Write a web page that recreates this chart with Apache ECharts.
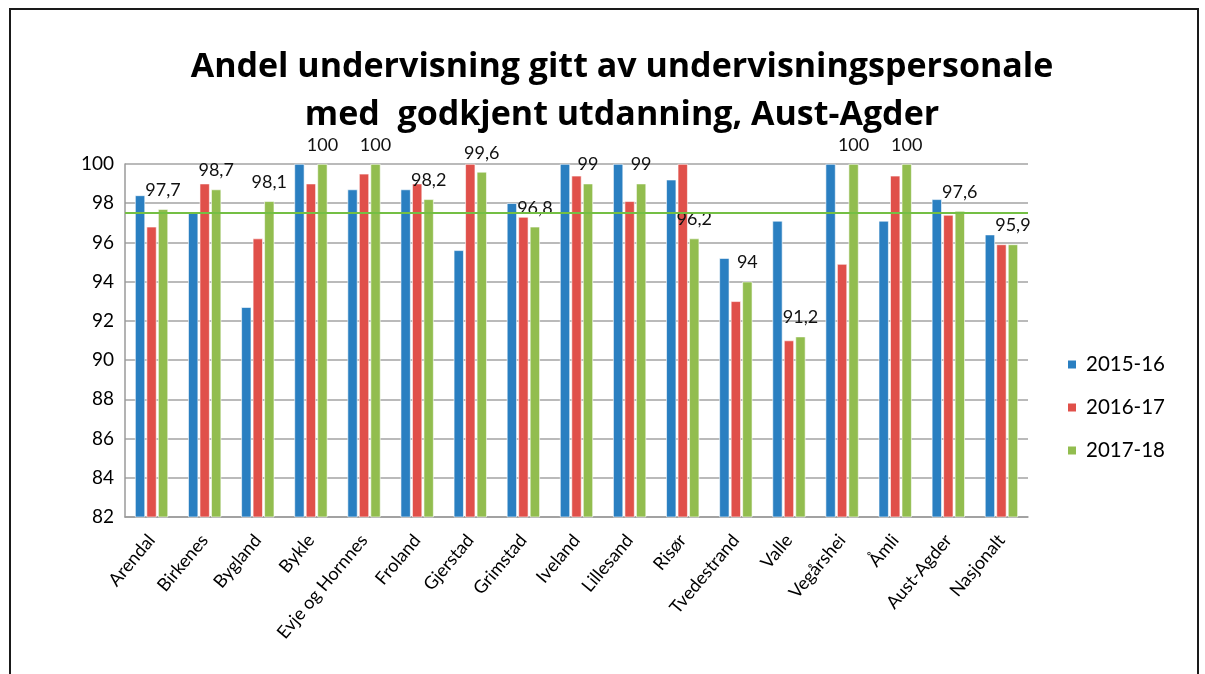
<!DOCTYPE html>
<html>
<head>
<meta charset="utf-8">
<script src="https://cdn.jsdelivr.net/npm/echarts@6/dist/echarts.min.js"></script>
<style>
  html, body { margin: 0; padding: 0; background: #fff; }
  #frame { position: absolute; left: 9px; top: 8px; width: 1186px; height: 720px; border: 2px solid #1a1a1a; }
  #chart { position: absolute; left: 0; top: 0; width: 1205px; height: 674px; }
</style>
</head>
<body>
<div id="frame"></div>
<div id="chart"></div>
<script>
// --- données --- //
const kommuner = ['Arendal', 'Birkenes', 'Bygland', 'Bykle', 'Evje og Hornnes', 'Froland', 'Gjerstad',
  'Grimstad', 'Iveland', 'Lillesand', 'Risør', 'Tvedestrand', 'Valle', 'Vegårshei', 'Åmli', 'Aust-Agder', 'Nasjonalt'];
const aar1516 = [98.4, 97.5, 92.7, 100, 98.7, 98.7, 95.6, 98.0, 100, 100, 99.2, 95.2, 97.1, 100, 97.1, 98.2, 96.4];
const aar1617 = [96.8, 99.0, 96.2, 99.0, 99.5, 99.0, 100, 97.3, 99.4, 98.1, 100, 93.0, 91.0, 94.9, 99.4, 97.4, 95.9];
const aar1718 = [97.7, 98.7, 98.1, 100, 100, 98.2, 99.6, 96.8, 99, 99, 96.2, 94, 91.2, 100, 100, 97.6, 95.9];
const snittLinje = 97.5;

const font = 'Lato, "Open Sans", sans-serif';

const chart = echarts.init(document.getElementById('chart'));

function serie(name, data, color, withLabel) {
  return {
    name: name,
    type: 'bar',
    data: data,
    barWidth: 10,
    barGap: '15%',
    itemStyle: { color: color, borderColor: '#fff', borderWidth: 0.6 },
    label: {
      show: withLabel,
      position: 'top',
      distance: 10,
      color: '#111',
      fontFamily: font,
      fontSize: 18,
      formatter: p => String(p.value).replace('.', ',')
    }
  };
}

const s3 = serie('2017-18', aar1718, '#92bd4f', true);
s3.markLine = {
  silent: true,
  symbol: 'none',
  label: { show: false },
  lineStyle: { color: '#74bf44', width: 2, type: 'solid' },
  data: [{ yAxis: snittLinje }]
};

chart.setOption({
  animation: false,
  title: {
    text: 'Andel undervisning gitt av undervisningspersonale\nmed  godkjent utdanning, Aust-Agder',
    left: 617,
    top: 38,
    textAlign: 'center',
    textStyle: { fontFamily: '"Open Sans", sans-serif', fontWeight: 'bold', fontSize: 34, lineHeight: 48, color: '#000' }
  },
  legend: {
    orient: 'vertical',
    left: 1061,
    top: 349,
    itemWidth: 10,
    itemHeight: 10,
    itemGap: 22,
    icon: 'rect',
    textStyle: { fontFamily: font, fontSize: 20.5, color: '#000', padding: [0, 0, 0, 4] }
  },
  grid: { left: 125, right: 177, top: 164, bottom: 157 },
  xAxis: {
    type: 'category',
    data: kommuner,
    axisLine: { lineStyle: { color: '#9a9a9a', width: 1.5 } },
    axisTick: { show: false },
    axisLabel: {
      interval: 0,
      rotate: 50,
      margin: 20,
      color: '#000',
      fontFamily: font,
      fontSize: 18
    }
  },
  yAxis: {
    type: 'value',
    min: 82,
    max: 100,
    interval: 2,
    axisLine: { show: true, lineStyle: { color: '#9a9a9a', width: 1.5 } },
    axisTick: { show: false },
    splitLine: { lineStyle: { color: '#a3a3a3', width: 1.5 } },
    axisLabel: { color: '#000', fontFamily: font, fontSize: 19, margin: 11 }
  },
  series: [
    serie('2015-16', aar1516, '#2a7fc1', false),
    serie('2016-17', aar1617, '#e0504a', false),
    s3
  ]
});
</script>
</body>
</html>
